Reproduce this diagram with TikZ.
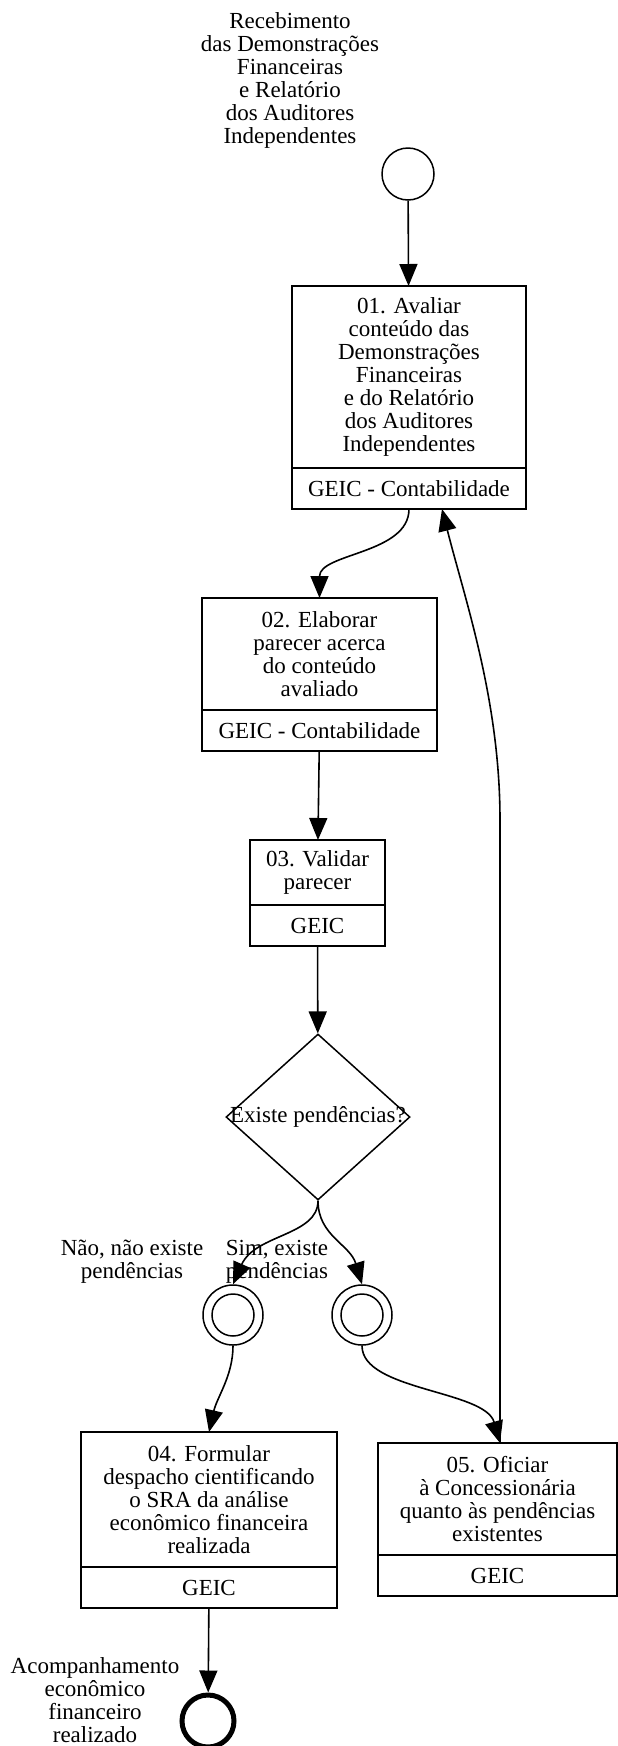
\documentclass[tikz,border=0pt]{standalone}
\usepackage{fontspec}
\setmainfont{Liberation Serif}
\usepackage{tikz}
\usetikzlibrary{shapes,shapes.geometric,arrows.meta,positioning,calc}

\begin{document}
\begin{tikzpicture}[
    x=1pt, y=-1pt,
    font=\fontsize{23}{23}\selectfont,
    task/.style={rectangle, draw, line width=1.6pt, outer sep=0pt, inner sep=0pt, align=center},
    role/.style={rectangle, draw, line width=1.6pt, outer sep=0pt, inner sep=0pt, minimum height=41pt},
    flow/.style={-{Triangle[length=22pt, width=18pt]}, line width=1.6pt},
    startev/.style={circle, draw, line width=1.5pt, minimum size=52pt, inner sep=0pt},
    midev/.style={circle, draw, line width=1.5pt, minimum size=60pt, inner sep=0pt,
        path picture={\draw[line width=1.5pt] (path picture bounding box.center) circle (21pt);}},
    endev/.style={circle, draw, line width=5pt, minimum size=52pt, inner sep=0pt},
    gate/.style={diamond, draw, line width=1.5pt, minimum width=184pt, minimum height=166pt, inner sep=0pt},
    note/.style={align=center, inner sep=0pt}
]
    \useasboundingbox (0,0) rectangle (618,1746);

    % Start
    \node[startev] (start) at (408,174) {};
    \node[note] (startlbl) at (290,80) {Recebimento\\das Demonstrações\\Financeiras\\e Relatório\\dos Auditores\\Independentes};

    % Tasks
    \node[task, minimum width=234pt, minimum height=182pt] (t01) at (409,377) {01. Avaliar\\conteúdo das\\Demonstrações\\Financeiras\\e do Relatório\\dos Auditores\\Independentes};
    \node[role, minimum width=234pt, below=0pt of t01] (r01) {GEIC - Contabilidade};

    \node[task, minimum width=235pt, minimum height=112pt] (t02) at (319.5,654) {02. Elaborar\\parecer acerca\\do conteúdo\\avaliado};
    \node[role, minimum width=235pt, below=0pt of t02] (r02) {GEIC - Contabilidade};

    \node[task, minimum width=135pt, minimum height=65pt] (t03) at (317.5,872.5) {03. Validar\\parecer};
    \node[role, minimum width=135pt, below=0pt of t03] (r03) {GEIC};

    % Gateway
    \node[gate, label={center:Existe pendências?}] (dec) at (318,1117) {};
    \node[note] (nolbl) at (132,1262) {Não, não existe\\pendências};
    \node[note] (yeslbl) at (277,1262) {Sim, existe\\pendências};
    \node[midev] (lc) at (233,1315) {};
    \node[midev] (rc) at (362,1315) {};

    \node[task, minimum width=256pt, minimum height=135pt] (t04) at (209,1499.5) {04. Formular\\despacho cientificando\\o SRA da análise\\econômico financeira\\realizada};
    \node[role, minimum width=256pt, below=0pt of t04] (r04) {GEIC};

    \node[task, minimum width=239pt, minimum height=112pt] (t05) at (497.5,1499) {05. Oficiar\\à Concessionária\\quanto às pendências\\existentes};
    \node[role, minimum width=239pt, below=0pt of t05] (r05) {GEIC};

    % End
    \node[endev] (fim) at (208,1721) {};
    \node[note] (fimlbl) at (95,1700) {Acompanhamento\\econômico\\financeiro\\realizado};

    % Flows
    \draw[flow] (start) -- (t01);
    \draw[flow] (r01.south) .. controls +(0,45) and +(0,-45) .. (t02.north);
    \draw[flow] (r02) -- (t03);
    \draw[flow] (r03) -- (dec);
    \draw[flow] (dec.south) .. controls +(0,35) and +(22,-50) .. (lc.north);
    \draw[flow] (dec.south) .. controls +(0,35) and +(-12,-40) .. (rc.north);
    \draw[flow] (lc.south) .. controls +(0,30) and +(8,-35) .. (t04.north);
    \draw[flow] (rc.south) .. controls +(0,45) and +(-15,-53) .. ([xshift=2.5pt]t05.north);
    \draw[flow] ([xshift=2.5pt]t05.north) -- ++(0,-623) .. controls +(0,-120) and +(23,91) .. ([xshift=33pt]r01.south);
    \draw[flow] (r04) -- (fim);
\end{tikzpicture}
\end{document}
